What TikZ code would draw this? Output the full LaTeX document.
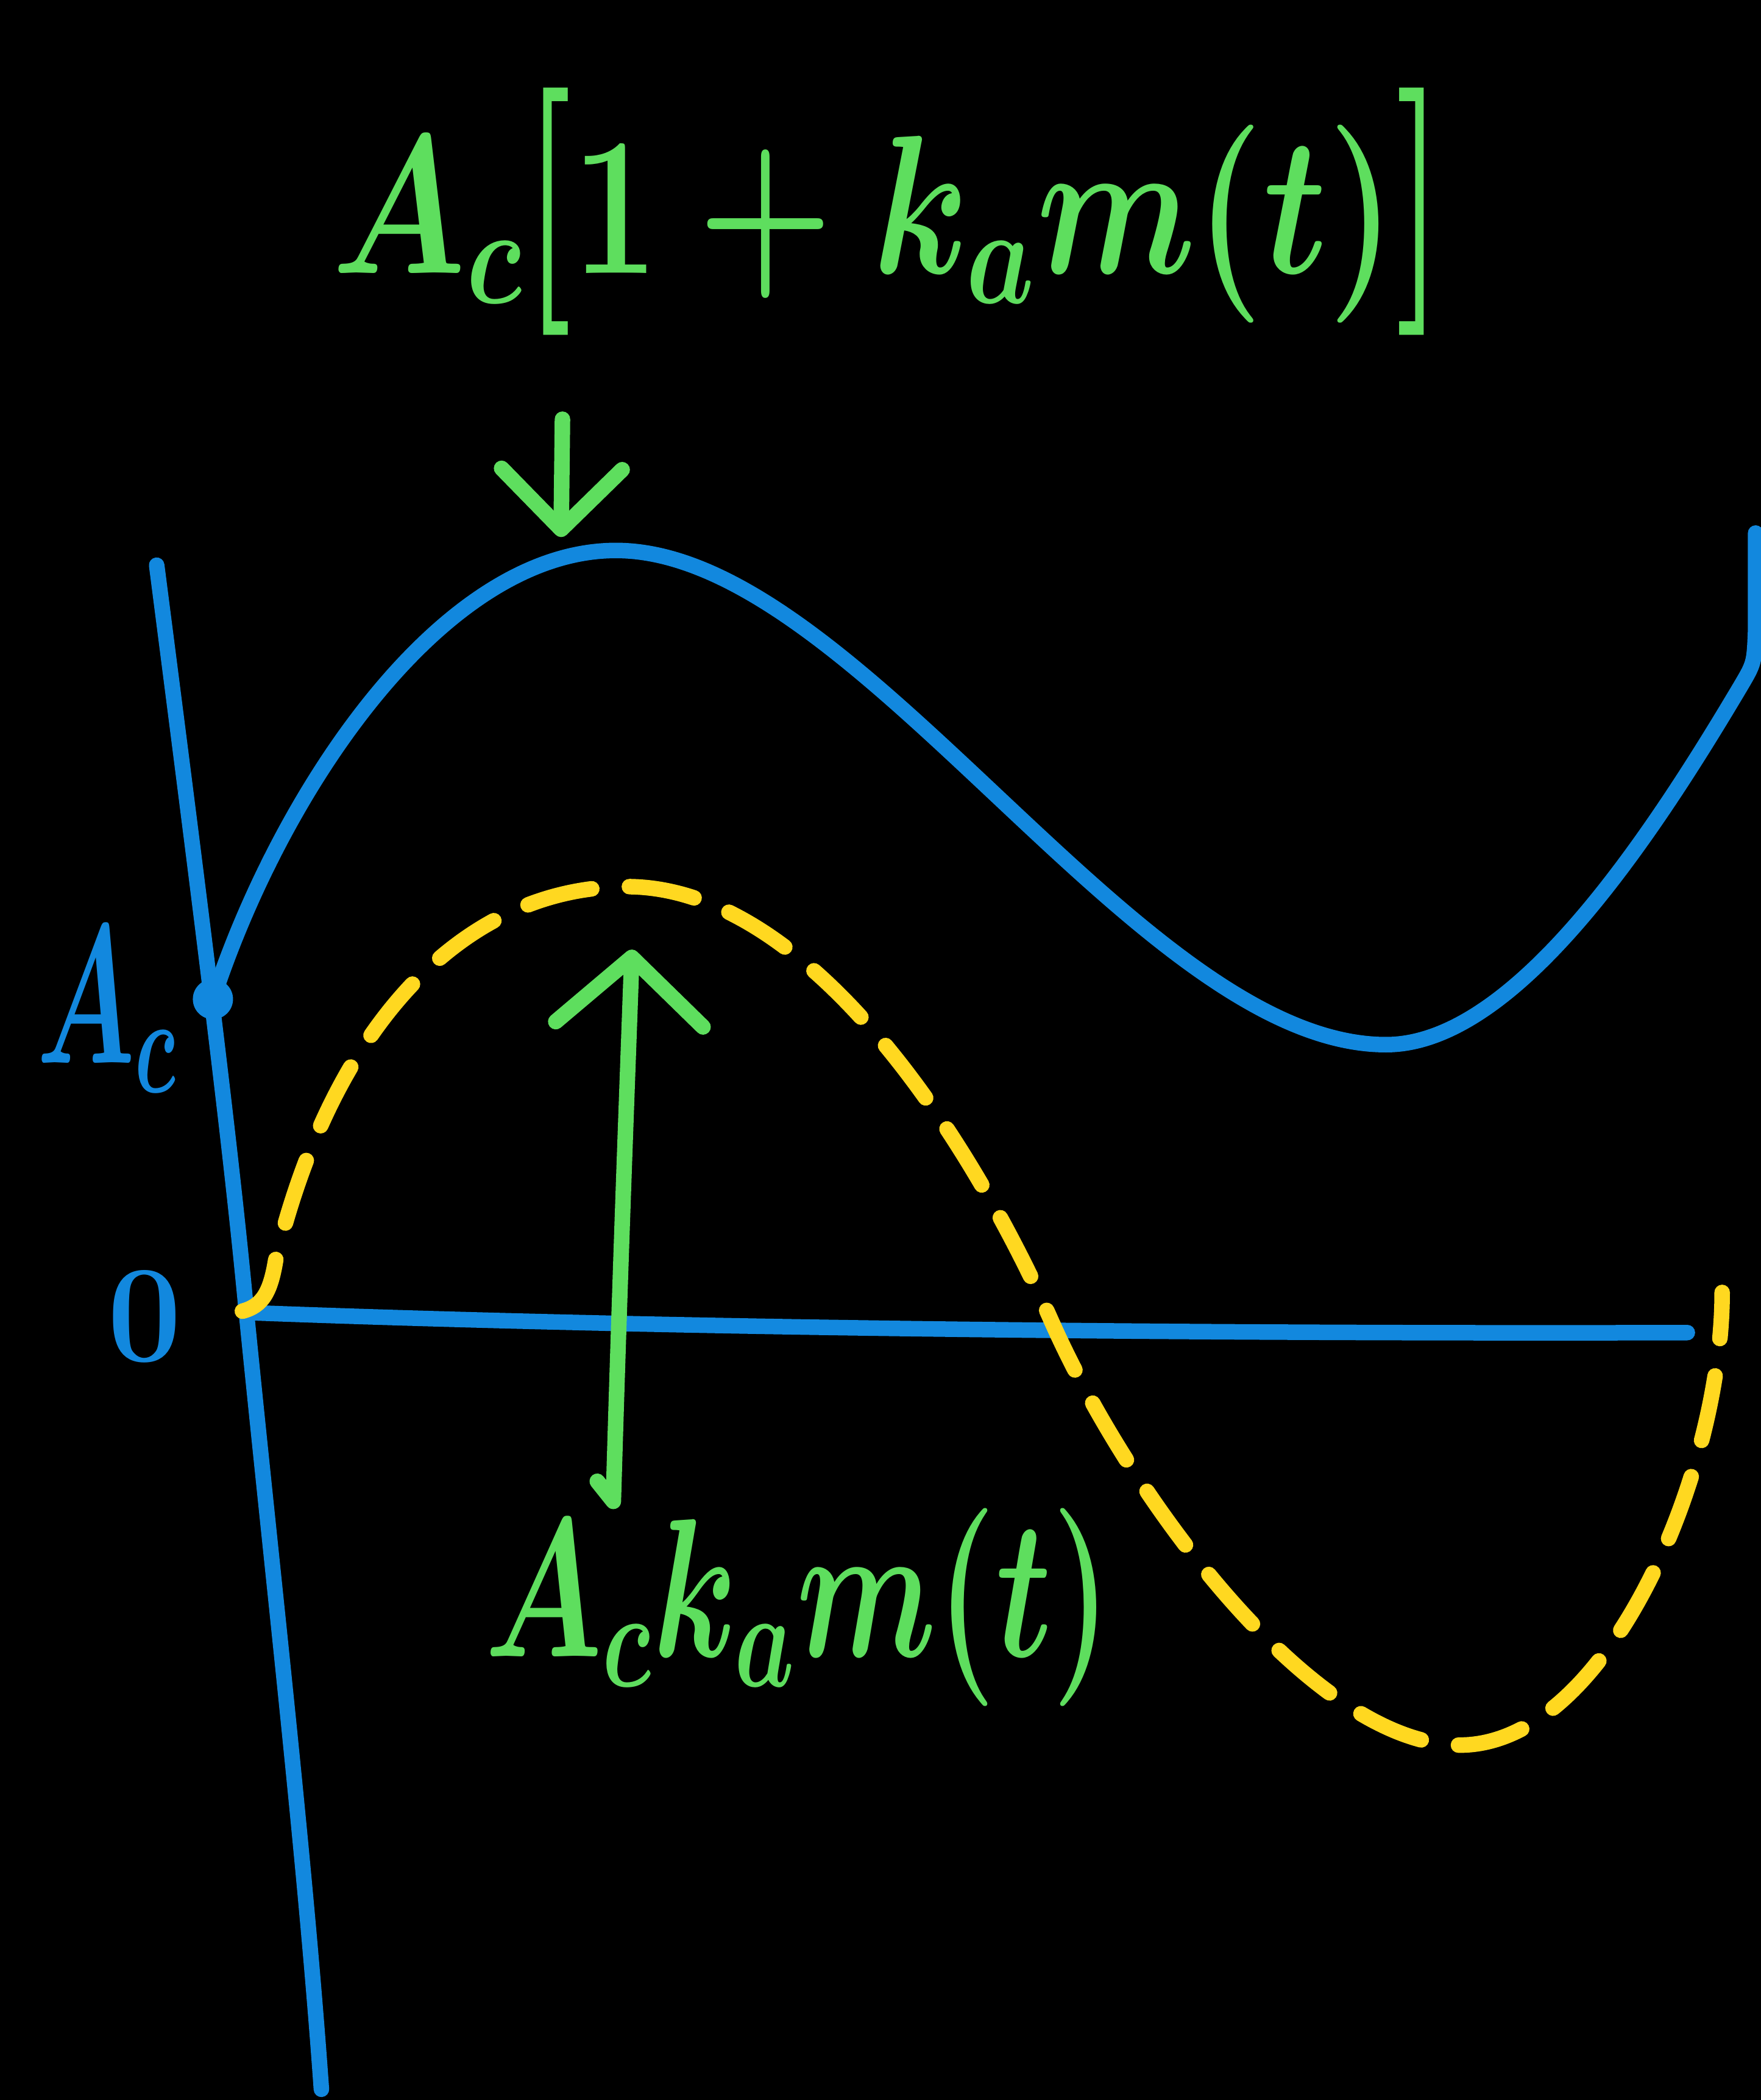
\documentclass[tikz,border=0pt]{standalone}
\usepackage{fix-cm}
\usepackage{amsmath}
\usepackage{xcolor}
\usepackage{graphicx}
\usepackage{tikz}
\usetikzlibrary{arrows.meta,positioning}
\definecolor{penblue}{RGB}{18,136,222}
\definecolor{pengreen}{RGB}{94,222,94}
\definecolor{penyellow}{RGB}{255,216,32}
\newcommand{\scrawl}[2][0.82]{\scalebox{#1}[1.05]{\boldmath$#2$}}
\newcommand{\tallbr}[1]{\scalebox{1}[1.25]{$#1$}}

\begin{document}
\begin{tikzpicture}[x=0.01cm, y=-0.01cm, line cap=round, line join=round,
  >={Straight Barb[length=5mm, width=11mm, round]},
  ink/.style={line width=3.3pt},
  axis/.style={ink, draw=penblue},
  carrier/.style={ink, draw=penblue},
  envelope/.style={ink, draw=penyellow, dash pattern=on 14pt off 8pt},
  pointer/.style={ink, draw=pengreen, ->},
  hand/.style={inner sep=0pt, font=\fontsize{40}{44}\selectfont}]
% page
\useasboundingbox (0,0) rectangle (1315,1568);
\fill[black] (0,0) rectangle (1315,1568);

% axes
\coordinate (ytop) at (117,422);
\coordinate (orig) at (184,980);
\coordinate (ybot) at (240,1560);
\coordinate (xend) at (1260,995);
\draw[axis] (ytop) .. controls (145,640) and (172,850) .. (orig)
  .. controls (205,1190) and (228,1390) .. (ybot);
\draw[axis] (orig) .. controls (500,992) and (900,996) .. (xend);
\node[circle, fill=penblue, minimum size=3mm, inner sep=0pt] (acdot) at (159,746) {};
\node[hand, text=penblue] (aclabel) at (80,754) {\scrawl[0.6]{A_c}};
\node[hand, text=penblue, font=\fontsize{28}{32}\selectfont] (zero) at (108,983) {\scrawl[1]{0}};

% modulated carrier
\draw[carrier] (acdot.center) .. controls (210,590) and (330,411) .. (460,411)
  .. controls (640,411) and (850,780) .. (1035,780)
  .. controls (1130,780) and (1230,630) .. (1300,512)
  .. controls (1310,495) .. (1311,470) -- (1311,398);

% message
\draw[envelope] (181,979) .. controls (196,975) and (202,965) .. (206,940)
  .. controls (250,760) and (350,662) .. (468,662)
  .. controls (600,662) and (720,840) .. (785,986)
  .. controls (843,1117) and (980,1303) .. (1090,1303)
  .. controls (1200,1303) and (1286,1100) .. (1286,965);

% labels
\node[hand, text=pengreen] (toplabel) at (663,158)
  {\scrawl{A_c\mathopen{\tallbr{[}}1+k_a m(t)\mathclose{\tallbr{]}}}};
\node[hand, text=pengreen] (lowlabel) at (596,1200) {\scrawl[0.72]{A_c k_a m(t)}};
\coordinate (tail) at (420,313);
\coordinate (crest) at (419,401);
\coordinate (hook) at (446,1106);
\coordinate (foot) at (458,1121);
\coordinate (ypeak) at (472,709);
\draw[ink, draw=pengreen, -{Straight Barb[length=4.5mm, width=9mm, round]}] (tail) -- (crest);
\draw[pointer] (hook) -- (foot) .. controls (463,950) and (468,820) .. (ypeak);
\end{tikzpicture}
\end{document}
